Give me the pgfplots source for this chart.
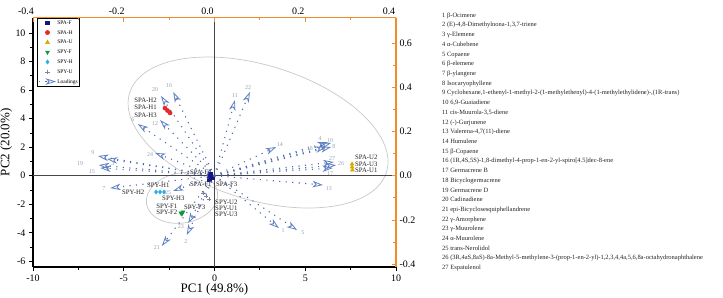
\documentclass[border=0pt]{standalone}
\usepackage{pgfplots}
\pgfplotsset{compat=1.18}
\usepackage{pgfplotstable}
\usepackage{fontspec}
\setmainfont{Liberation Serif}
\usetikzlibrary{arrows.meta}

\definecolor{axorange}{RGB}{242,140,40}
\definecolor{zeroline}{RGB}{70,70,70}
\definecolor{ellgray}{RGB}{200,200,200}
\definecolor{loaddot}{RGB}{75,105,175}
\definecolor{loadhead}{RGB}{95,130,195}
\definecolor{loadtext}{RGB}{150,160,185}
\definecolor{spaF}{RGB}{20,20,130}
\definecolor{spaH}{RGB}{230,40,40}
\definecolor{spaU}{RGB}{215,170,0}
\definecolor{spyF}{RGB}{20,150,60}
\definecolor{spyH}{RGB}{40,175,230}
\definecolor{spyU}{RGB}{130,130,160}
\definecolor{labtext}{RGB}{35,35,35}

% loading vectors (PC1, PC2 loadings) of the 27 compounds
\pgfplotstableread{
x y u v
0 0 0.142 -0.237
0 0 -0.061 -0.268
0 0 -0.237 0.076
0 0 0.250 0.152
0 0 0.182 -0.246
0 0 -0.169 0.234
0 0 -0.230 -0.056
0 0 0.257 0.130
0 0 -0.257 0.089
0 0 0.257 0.148
0 0 0.045 0.342
0 0 -0.120 0.252
0 0 0.239 -0.042
0 0 0.136 0.130
0 0 -0.252 0.035
0 0 -0.091 0.379
0 0 0.261 0.035
0 0 0.246 0.130
0 0 -0.255 0.048
0 0 -0.118 0.361
0 0 -0.116 -0.318
0 0 0.078 0.379
0 0 -0.058 -0.215
0 0 -0.131 0.103
0 0 -0.091 -0.069
0 0 0.268 0.048
0 0 0.263 0.062
}\loadings

% where the compound numbers are written
\pgfplotstableread{
x y lab
0.151 -0.250 1
-0.063 -0.296 2
-0.224 0.057 3
0.233 0.166 4
0.195 -0.255 5
-0.180 0.252 6
-0.244 -0.060 7
0.263 0.130 8
-0.268 0.103 9
0.255 0.161 10
0.045 0.361 11
-0.131 0.238 12
0.252 -0.056 13
0.144 0.143 14
-0.270 0.017 15
-0.100 0.410 16
0.255 0.012 17
0.210 0.121 18
-0.296 0.053 19
-0.131 0.388 20
-0.127 -0.327 21
0.074 0.401 22
-0.074 -0.232 23
-0.142 0.094 24
-0.102 -0.074 25
0.279 0.053 26
0.259 0.076 27
}\loadlabels

\tikzset{
  loadarrow/.style={loaddot, line width=1.1bp, dash pattern=on 1.1bp off 5.4bp,
    -{Stealth[open, length=10.5bp, width=6.5bp, inset=3bp, color=loadhead, line width=0.8bp]}},
  samplelab/.style={font=\fontsize{6.8}{6.8}\selectfont, text=labtext, inner sep=0pt},
}

\begin{document}
\begin{tikzpicture}
\useasboundingbox (0,0) rectangle (723bp,298bp);

% scores
\begin{axis}[
  at={(33bp,31bp)}, anchor=south west,
  width=363bp, height=249.3bp, scale only axis,
  xmin=-10, xmax=10, ymin=-6.4, ymax=11.08,
  axis x line*=bottom, axis y line*=left,
  axis line style={black, line width=1.1bp, -},
  xtick={-10,-5,0,5,10}, minor x tick num=1,
  ytick={-6,-4,-2,0,2,4,6,8,10}, minor y tick num=1,
  tick align=outside,
  major tick length=4bp, minor tick length=2.5bp,
  tick style={black, line width=0.8bp},
  /pgf/number format/assume math mode=true,
  ticklabel style={font=\fontsize{10}{10}\selectfont, text=black},
  xlabel={PC1 (49.8\%)}, ylabel={PC2 (20.0\%)},
  label style={font=\fontsize{13}{13}\selectfont},
  xlabel style={at={(axis description cs:0.5,-0.09)}, anchor=center},
  ylabel style={at={(axis description cs:-0.074,0.5)}, anchor=center},
  legend style={at={(0.011,0.9988)}, anchor=north west, draw=black, line width=0.5bp,
    font=\fontsize{5.5}{6}\selectfont, inner sep=1.2bp, row sep=3.2bp,
    nodes={inner sep=0.8bp, text height=4bp, text depth=1bp},
    cells={anchor=west}},
]
% confidence ellipses
\draw[ellgray, line width=0.7bp, rotate around={-17.1:(axis cs:2.40,3.03)}]
  (axis cs:2.40,3.03) ellipse [x radius=134.4bp, y radius=67.3bp];
\draw[ellgray, line width=0.7bp, rotate around={10:(axis cs:-1.79,-1.56)}]
  (axis cs:-1.79,-1.56) ellipse [x radius=36bp, y radius=25bp];
% zero lines
\draw[zeroline, line width=1.2bp] (axis cs:-10,0) -- (axis cs:10,0);
\draw[zeroline, line width=1.2bp] (axis cs:0,-6.4) -- (axis cs:0,11.08);

\addplot[only marks, mark=square*, mark size=1.9bp, color=spaF] coordinates {(-0.25,0.12) (-0.14,-0.09) (-0.30,-0.23)};
\addlegendentry{SPA-F}
\addplot[only marks, mark=*, mark size=2.1bp, color=spaH] coordinates {(-2.73,4.74) (-2.59,4.57) (-2.45,4.40)};
\addlegendentry{SPA-H}
\addplot[only marks, mark=triangle*, mark size=2.3bp, color=spaU] coordinates {(7.58,0.82) (7.58,0.61) (7.60,0.40)};
\addlegendentry{SPA-U}
\addplot[only marks, mark=triangle*, mark size=2.3bp, mark options={rotate=180}, color=spyF] coordinates {(-1.85,-2.62) (-1.74,-2.55) (-1.80,-2.68)};
\addlegendentry{SPY-F}
\addplot[only marks, mark=diamond*, mark size=2.1bp, color=spyH] coordinates {(-3.22,-1.14) (-3.00,-1.14) (-2.78,-1.14)};
\addlegendentry{SPY-H}
\addplot[only marks, mark=+, mark size=2.1bp, color=spyU] coordinates {(-0.63,-1.23) (-0.47,-1.44) (-0.30,-1.65)};
\addlegendentry{SPY-U}
\addlegendimage{loadarrow}
\addlegendentry{Loadings}

% sample names
\node[samplelab, anchor=east] at (axis cs:-3.17,5.30) {SPA-H2};
\node[samplelab, anchor=east] at (axis cs:-3.17,4.77) {SPA-H1};
\node[samplelab, anchor=east] at (axis cs:-3.17,4.26) {SPA-H3};
\node[samplelab, anchor=west] at (axis cs:7.74,1.28) {SPA-U2};
\node[samplelab, anchor=west] at (axis cs:7.74,0.82) {SPA-U3};
\node[samplelab, anchor=west] at (axis cs:7.74,0.36) {SPA-U1};
\node[samplelab, anchor=west] at (axis cs:-1.35,0.26) {SPA-F2};
\node[samplelab, anchor=west] at (axis cs:-1.35,-0.58) {SPA-F1};
\node[samplelab, anchor=west] at (axis cs:0.08,-0.58) {SPA-F3};
\node[samplelab, anchor=west] at (axis cs:-3.72,-0.65) {SPY-H1};
\node[samplelab, anchor=west] at (axis cs:-5.10,-1.14) {SPY-H2};
\node[samplelab, anchor=west] at (axis cs:-2.89,-1.56) {SPY-H3};
\node[samplelab, anchor=west] at (axis cs:-3.22,-2.17) {SPY-F1};
\node[samplelab, anchor=west] at (axis cs:-3.22,-2.57) {SPY-F2};
\node[samplelab, anchor=west] at (axis cs:-1.68,-2.22) {SPY-F3};
\node[samplelab, anchor=west] at (axis cs:0.03,-1.84) {SPY-U2};
\node[samplelab, anchor=west] at (axis cs:0.03,-2.27) {SPY-U1};
\node[samplelab, anchor=west] at (axis cs:0.03,-2.69) {SPY-U3};
\end{axis}

% loadings
\begin{axis}[
  at={(33bp,31bp)}, anchor=south west,
  width=363bp, height=249.3bp, scale only axis,
  xmin=-0.4, xmax=0.4, ymin=-0.413, ymax=0.715,
  axis x line*=top, axis y line*=right,
  axis line style={axorange, line width=1.2bp, -},
  xtick={-0.4,-0.2,0,0.2,0.4}, minor x tick num=1,
  ytick={-0.4,-0.2,0,0.2,0.4,0.6}, minor y tick num=1,
  tick align=inside,
  major tick length=4bp, minor tick length=2.5bp,
  tick style={axorange, line width=0.8bp},
  /pgf/number format/assume math mode=true,
  /pgf/number format/.cd, fixed, fixed zerofill, precision=1, /pgfplots/.cd,
  ticklabel style={font=\fontsize{10}{10}\selectfont, text=black},
  xticklabel style={xshift=-7bp},
]
\addplot[loadarrow, quiver={u=\thisrow{u}, v=\thisrow{v}}] table[x=x, y=y] {\loadings};
\addplot[draw=none, mark=none, forget plot, nodes near coords, point meta=explicit symbolic,
  nodes near coords align=center,
  every node near coord/.append style={font=\fontsize{6}{6}\selectfont, text=loadtext, inner sep=0pt}]
  table[x=x, y=y, meta=lab] {\loadlabels};
\end{axis}

% compound key
\node[anchor=north west, align=left, inner sep=0pt, text=labtext,
  font=\fontsize{6.5}{9.75}\selectfont] at (442bp,285.6bp) {%
1 β-Ocimene\\
2 (E)-4,8-Dimethylnona-1,3,7-triene\\
3 γ-Elemene\\
4 α-Cubebene\\
5 Copaene\\
6 β-elemene\\
7 β-ylangene\\
8 Isocaryophyllene\\
9 Cyclohexane,1-ethenyl-1-methyl-2-(1-methylethenyl)-4-(1-methylethylidene)-,(1R-trans)\\
10 6,9-Guaiadiene\\
11 cis-Muurola-3,5-diene\\
12 (-)-Gurjunene\\
13 Valerena-4,7(11)-diene\\
14 Humulene\\
15 β-Copaene\\
16 (1R,4S,5S)-1,8-dimethyl-4-prop-1-en-2-yl-spiro[4.5]dec-8-ene\\
17 Germacrene B\\
18 Bicyclogermacrene\\
19 Germacrene D\\
20 Cadinadiene\\
21 epi-Bicyclosesquiphellandrene\\
22 γ-Amorphene\\
23 γ-Muurolene\\
24 α-Muurolene\\
25 trans-Nerolidol\\
26 (3R,4aS,8aS)-8a-Methyl-5-methylene-3-(prop-1-en-2-yl)-1,2,3,4,4a,5,6,8a-octahydronaphthalene\\
27 Espatulenol};
\end{tikzpicture}
\end{document}
